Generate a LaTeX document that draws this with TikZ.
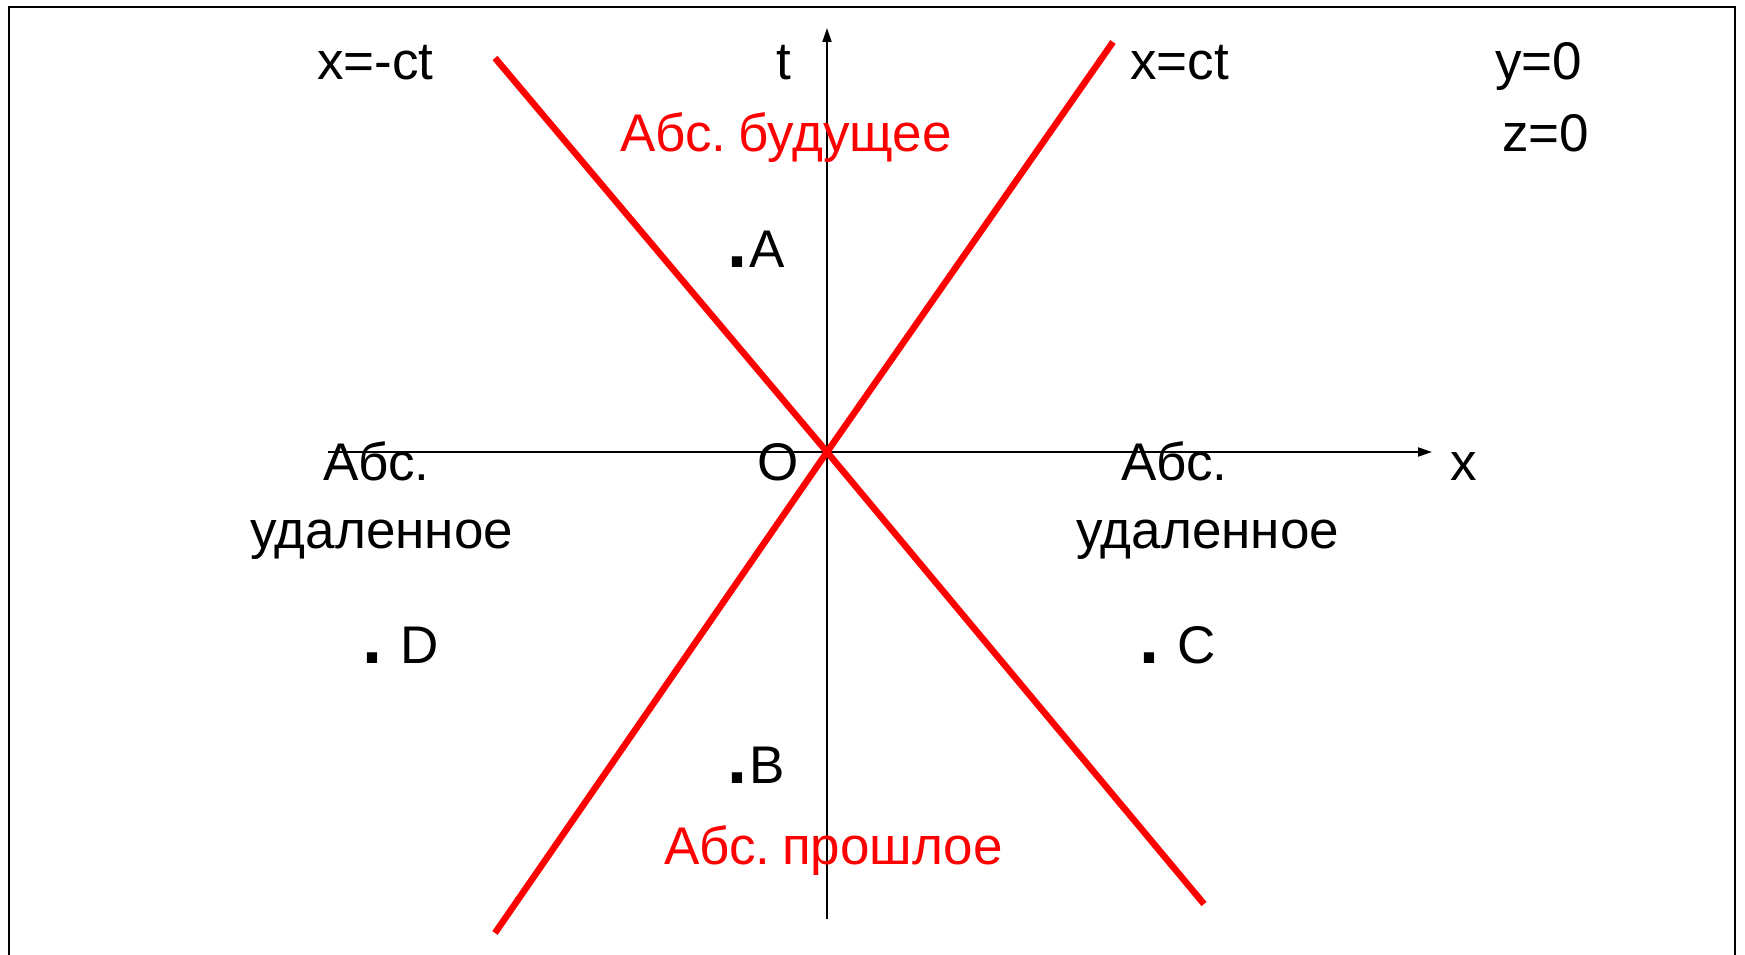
\documentclass[tikz,border=0pt]{standalone}
\usepackage{fontspec}
\setmainfont{Liberation Sans}
\usetikzlibrary{arrows.meta}
\newcommand\mydot{{\fontsize{72}{72}\selectfont\bfseries .}}
\begin{document}
\begin{tikzpicture}[x=1pt,y=-1pt,
  lbl/.style={anchor=base west, inner sep=0pt, font=\fontsize{53}{60}\selectfont},
  redlbl/.style={lbl, text=red},
  cone/.style={red, line width=6.5pt},
  axisline/.style={line width=2pt, -{Triangle[length=14pt,width=9pt]}},
  frameline/.style={line width=2pt}]
\useasboundingbox (0,0) rectangle (1745,955);
% frame (open at bottom)
\coordinate (fbl) at (9,975);
\coordinate (ftl) at (9,7);
\coordinate (ftr) at (1735,7);
\coordinate (fbr) at (1735,975);
\draw[frameline] (fbl) -- (ftl) -- (ftr) -- (fbr);
% origin and axes
\coordinate (O) at (827,452);
\coordinate (tB) at (827,919);
\coordinate (tT) at (827,28);
\coordinate (xL) at (328,452);
\coordinate (xR) at (1432,452);
\draw[axisline] (tB) -- (tT);
\draw[axisline] (xL) -- (xR);
% light cone
\coordinate (c1a) at (495,58);
\coordinate (c1b) at (1204,904);
\coordinate (c2a) at (495,933);
\coordinate (c2b) at (1113,42);
\draw[cone] (c1a) -- (O) -- (c1b);
\draw[cone] (c2a) -- (O) -- (c2b);
% labels
\node[lbl] (lxmct) at (317,80) {x=-ct};
\node[lbl] (lt) at (776,80) {t};
\node[lbl] (lxct) at (1130,80) {x=ct};
\node[lbl] (ly) at (1495,80) {y=0};
\node[lbl] (lz) at (1502,152) {z=0};
\node[redlbl] (lfut) at (620,152) {Абс.\kern-3pt\ будущее};
\node[lbl] (lA) at (727,267) {\mydot\kern2pt A};
\node[lbl] (lO) at (757,480) {O};
\node[lbl] (lx) at (1450,480) {x};
\node[lbl] (lel1) at (323,480) {Абс.};
\node[lbl] (lel2) at (250,548) {удаленное};
\node[lbl] (ler1) at (1121,480) {Абс.};
\node[lbl] (ler2) at (1076,548) {удаленное};
\node[lbl] (lD) at (362,663) {\mydot\ \kern4pt D};
\node[lbl] (lC) at (1139,663) {\mydot\ \kern4pt C};
\node[lbl] (lB) at (727,783) {\mydot\kern2pt B};
\node[redlbl] (lpast) at (664,864) {Абс.\kern-3pt\ прошлое};
\end{tikzpicture}
\end{document}
